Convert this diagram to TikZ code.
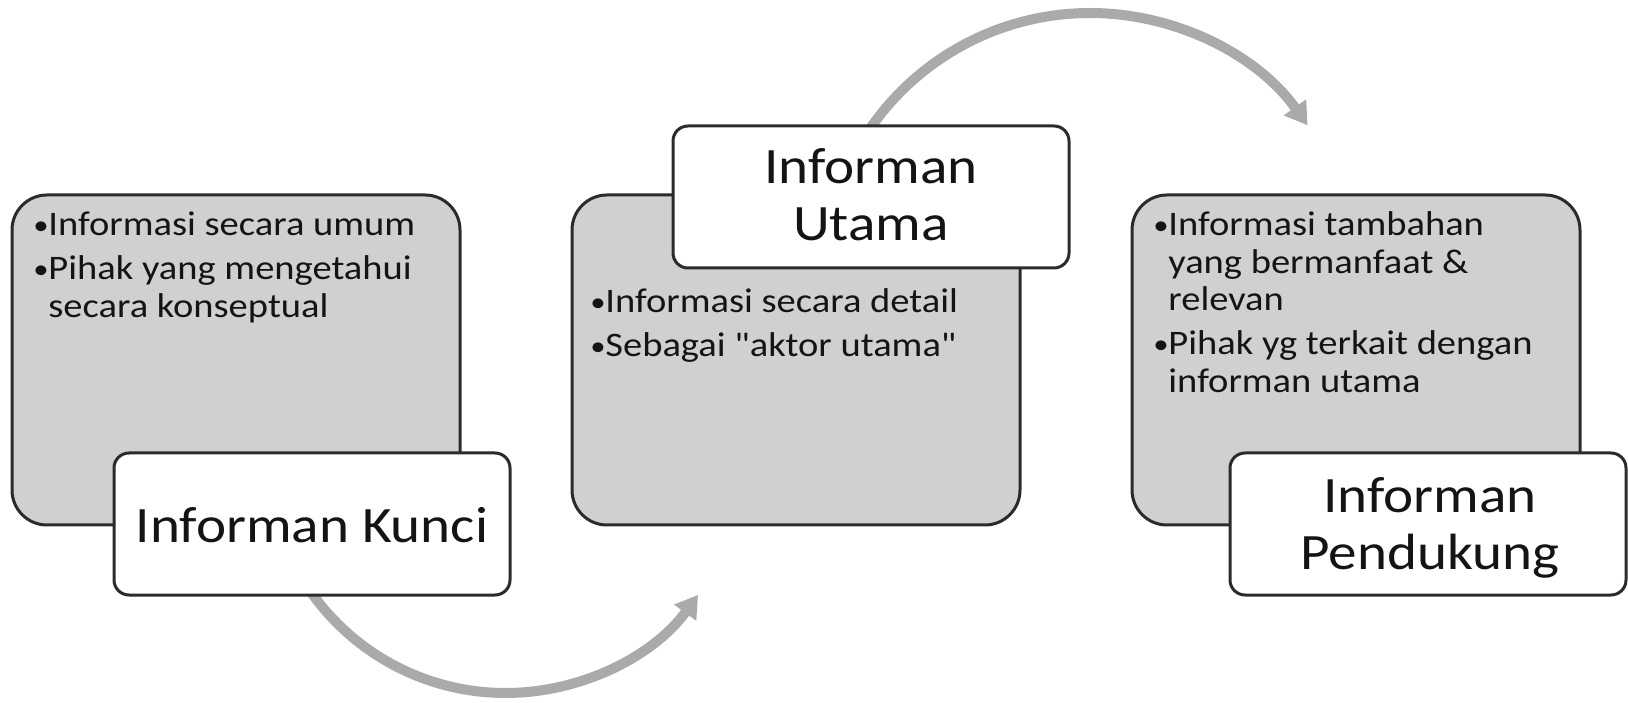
\documentclass[tikz,border=0pt]{standalone}
\usepackage{fontspec}
\usepackage{graphicx}
\setmainfont{Carlito}[FakeStretch=1.12, Ligatures=TeXOff]
\usetikzlibrary{arrows.meta}
\definecolor{boxgray}{HTML}{D0D0D0}
\definecolor{arrowgray}{HTML}{AAAAAA}
\definecolor{edgec}{HTML}{2B2B2B}
\definecolor{textc}{HTML}{141414}
\newcommand{\bodyfont}{\fontsize{17.2pt}{18.75pt}\selectfont}
\newcommand{\titlefont}{\fontsize{25.5pt}{28.5pt}\selectfont}
\newcommand{\bul}{\makebox[7.5pt][l]{\raisebox{0.9pt}{\scalebox{0.8}{•}}}}
\newcommand{\ind}{\hspace*{7.5pt}}
\begin{document}
\begin{tikzpicture}[x=0.5pt,y=0.5pt,
  graybox/.style={draw=edgec, line width=1.5pt, fill=boxgray, rounded corners=17.5pt,
    minimum width=224pt, minimum height=165pt, inner sep=0pt},
  whitebox/.style={draw=edgec, line width=1.5pt, fill=white, rounded corners=7.5pt,
    minimum width=198pt, minimum height=71pt, inner sep=0pt},
  bodytext/.style={anchor=base west, inner sep=0pt, text=textc, font=\bodyfont},
  titletext/.style={anchor=base, inner sep=0pt, text=textc, font=\titlefont},
  flow/.style={draw=arrowgray, line width=5pt, -{Triangle[width=13pt,length=11pt]}}
]
\useasboundingbox (0,0) rectangle (1628,702);

% gray content boxes
\node[graybox] (g1) at (236,342) {};
\node[graybox] (g2) at (796,342) {};
\node[graybox] (g3) at (1356,342) {};

% curved arrows
\coordinate (a1s) at ([shift={(212:238)}]505.5,247);
\draw[flow] (a1s) arc[start angle=212, end angle=324, radius=238];
\coordinate (a2s) at ([shift={(148:267)}]1090,422);
\draw[flow] (a2s) arc[start angle=148, end angle=35.4, radius=267];

% white title boxes
\node[whitebox] (w1) at (312,178) {};
\node[whitebox] (w2) at (871,505) {};
\node[whitebox] (w3) at (1428,178) {};

% titles
\node[titletext] (h1) at (312,160) {Informan Kunci};
\node[titletext] (h2) at (871,518) {\begin{tabular}[t]{@{}c@{}}Informan\\Utama\end{tabular}};
\node[titletext] (h3) at (1430,190) {\begin{tabular}[t]{@{}c@{}}Informan\\Pendukung\end{tabular}};

% bullet texts
\node[bodytext] (b1) at (33,466) {\begin{tabular}[t]{@{}l@{}}\bul Informasi secara umum\\[3.25pt]
  \bul Pihak yang mengetahui\\ \ind secara konseptual\end{tabular}};
\node[bodytext] (b2) at (590,389) {\begin{tabular}[t]{@{}l@{}}\bul Informasi secara detail\\[3.25pt]
  \bul Sebagai "aktor utama"\end{tabular}};
\node[bodytext] (b3) at (1153,466) {\begin{tabular}[t]{@{}l@{}}\bul Informasi tambahan\\
  \ind yang bermanfaat \&\\ \ind relevan\\[3.25pt]
  \bul Pihak yg terkait dengan\\ \ind informan utama\end{tabular}};
\end{tikzpicture}
\end{document}
